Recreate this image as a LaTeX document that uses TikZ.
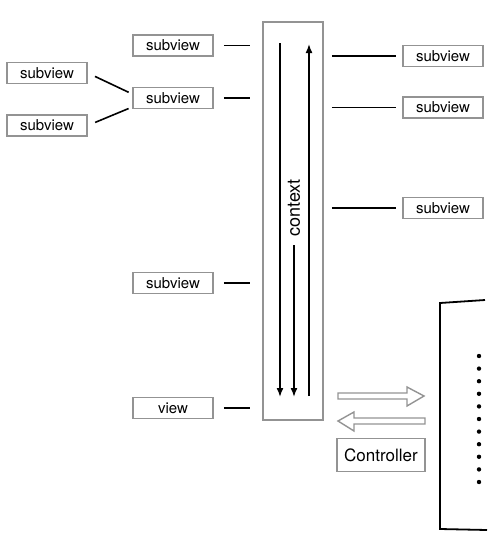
\documentclass[tikz,border=0pt]{standalone}
\usepackage{fontspec}
\setmainfont{TeX Gyre Heros}
\usepackage{tikz}
\usetikzlibrary{arrows.meta,positioning}

\begin{document}
\begin{tikzpicture}[x=1pt,y=-1pt,
		box/.style={rectangle,draw=gray!85,line width=1.5pt,inner sep=0pt,minimum width=80pt,minimum height=21pt,font=\fontsize{15}{15}\selectfont},
		link/.style={line width=1.6pt,black},
		flow/.style={line width=1.6pt,black,-{Latex[length=9pt,width=7pt]}},
		hollow/.style={draw=gray!85,line width=1.4pt,line join=miter}]
	\useasboundingbox (0,0) rectangle (500,546);

	% context column
	\node[rectangle,draw=gray!85,line width=1.5pt,minimum width=60pt,minimum height=398pt] (context) at (293,221) {};
	\node[rotate=90,font=\fontsize{18}{18}\selectfont] (ctxlabel) at (294,208) {context};
	\coordinate (downA) at (280,43);
	\coordinate (endA) at (280,397);
	\coordinate (downB) at (294,245);
	\coordinate (endB) at (294,397);
	\coordinate (upC) at (309,396);
	\coordinate (endC) at (309,44);
	\draw[flow] (downA) -- (endA);
	\draw[flow] (downB) -- (endB);
	\draw[flow] (upC) -- (endC);

	% left side
	\node[box] (midsub) at (173,98) {subview};
	\node[box] (topsub) [above=30pt of midsub] {subview};
	\node[box] (lowsub) at (173,283) {subview};
	\node[box] (view) at (173,408) {view};
	\node[box] (leftA) at (47,73) {subview};
	\node[box] (leftB) [below=30pt of leftA] {subview};
	\foreach \n in {topsub,midsub,lowsub,view}
		\draw[link,shorten <=10pt,shorten >=12pt] (\n.east) -- (\n.east -| context.west);
	\draw[link,shorten <=8pt,shorten >=4pt] (leftA.east) -- ([yshift=4pt]midsub.west);
	\draw[link,shorten <=8pt,shorten >=4pt] (leftB.east) -- ([yshift=-9pt]midsub.west);

	% right side
	\node[box] (rightA) at (443,56) {subview};
	\node[box] (rightB) [below=29pt of rightA] {subview};
	\node[box] (rightC) at (443,208) {subview};
	\foreach \n in {rightA,rightB,rightC}
		\draw[link,shorten <=8pt,shorten >=6pt] (\n.west -| context.east) -- (\n.west);

	% controller
	\node[box,minimum width=88pt,minimum height=33pt,font=\fontsize{17}{17}\selectfont] (controller) at (381,455) {Controller};
	\draw[hollow] (338,393) -- (407,393) -- (407,387) -- (424,396) -- (407,406) -- (407,399) -- (338,399) -- cycle;
	\draw[hollow] (425,418) -- (354,418) -- (354,412) -- (338,421) -- (354,431) -- (354,424) -- (425,424) -- cycle;

	% screen
	\draw[line width=1.8pt] (485,300) -- (440,303) -- (440,529) -- (487,530);
	\foreach \i in {0,...,10}
		\fill (479,356+12.6*\i) circle (2.2pt);
\end{tikzpicture}
\end{document}
